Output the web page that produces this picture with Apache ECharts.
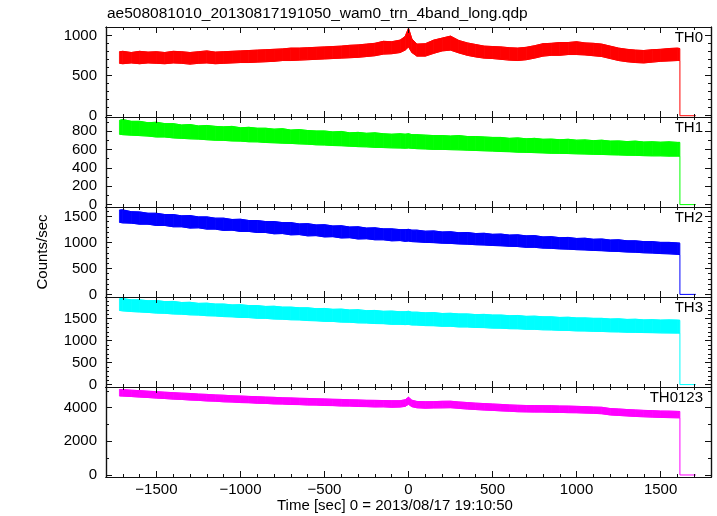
<!DOCTYPE html>
<html><head><meta charset="utf-8">
<script src="https://cdn.jsdelivr.net/npm/echarts@6/dist/echarts.min.js"></script>
<style>html,body{margin:0;padding:0;background:#fff}#c{width:717px;height:516px}</style>
</head><body><div id="c"></div>
<script>
// ---- data ----
const titleText = 'ae508081010_20130817191050_wam0_trn_4band_long.qdp';
const xTitle = 'Time [sec] 0 = 2013/08/17 19:10:50';
const yTitle = 'Counts/sec';
const seriesNames = ['TH0', 'TH1', 'TH2', 'TH3', 'TH0123'];
const colors = ['#ff0000', '#00ff00', '#0000ff', '#00ffff', '#ff00ff'];

const times = [-1720,-1700,-1650,-1600,-1550,-1500,-1450,-1400,-1350,-1300,-1250,-1200,-1150,-1100,-1050,-1000,-950,-900,-850,-800,-750,-700,-650,-600,-550,-500,-450,-400,-350,-300,-250,-200,-150,-100,-50,-20,0,20,50,100,150,200,250,300,350,400,450,500,550,600,650,700,750,800,850,900,950,1000,1050,1100,1150,1200,1250,1300,1350,1400,1450,1500,1550,1600,1615];

// upper / lower envelopes of the noisy traces
const th0Hi = [800,805,790,805,795,800,790,805,800,790,800,810,795,800,805,810,815,820,825,830,835,845,845,850,855,860,865,870,880,885,895,905,930,925,945,990,1095,960,895,900,945,970,995,940,910,890,870,865,860,850,845,855,875,900,905,915,915,925,910,905,895,870,845,830,820,815,825,830,840,845,840];
const th0Lo = [655,650,660,650,660,655,650,660,655,645,655,660,650,655,660,665,665,670,675,680,690,690,695,700,705,710,715,720,725,730,740,750,770,775,790,820,860,790,745,745,780,810,820,785,755,735,720,715,705,695,690,700,720,745,755,755,765,765,760,750,740,715,690,675,665,660,670,680,685,690,690];

const th1Hi = [915,925,905,905,890,895,880,880,865,870,855,860,850,845,850,835,840,830,830,820,825,810,815,805,800,800,790,795,780,785,775,780,770,765,770,765,770,760,760,755,750,750,745,750,740,740,735,730,730,720,725,715,720,710,712,705,710,700,703,695,700,690,692,685,690,680,683,678,682,676,676];
const th1Lo = [765,760,755,750,745,735,735,725,720,715,712,705,700,698,692,690,683,682,675,672,668,665,660,657,650,648,642,640,635,630,628,622,620,617,615,613,615,612,608,605,600,600,597,595,592,588,585,582,577,575,570,568,565,562,558,557,555,552,550,547,545,542,540,537,535,532,530,530,527,527,527];

const th2Hi = [1620,1625,1590,1585,1560,1560,1535,1535,1510,1515,1490,1490,1465,1465,1440,1445,1420,1420,1400,1400,1380,1380,1355,1360,1335,1340,1315,1320,1295,1300,1275,1280,1260,1260,1245,1245,1250,1235,1235,1215,1220,1200,1205,1185,1190,1170,1175,1155,1160,1140,1145,1125,1130,1105,1110,1090,1095,1075,1080,1060,1065,1045,1050,1030,1030,1015,1015,1000,1000,990,985];
const th2Lo = [1385,1375,1370,1350,1350,1325,1325,1300,1300,1275,1280,1255,1255,1230,1235,1210,1210,1190,1190,1165,1170,1145,1150,1125,1130,1105,1110,1085,1090,1065,1070,1050,1050,1030,1035,1020,1025,1015,1010,1000,995,985,980,970,965,955,950,940,935,925,920,905,905,890,885,875,870,860,855,845,840,830,825,815,810,800,795,785,780,770,765];

const th3Hi = [1950,1955,1925,1925,1905,1910,1885,1890,1865,1870,1845,1850,1830,1830,1810,1815,1795,1795,1775,1780,1760,1760,1745,1745,1725,1730,1710,1715,1695,1700,1680,1685,1665,1670,1655,1655,1665,1645,1645,1630,1635,1615,1620,1605,1605,1590,1595,1580,1580,1565,1570,1550,1555,1540,1540,1525,1530,1515,1515,1505,1505,1490,1495,1480,1485,1470,1475,1465,1470,1465,1460];
const th3Lo = [1685,1675,1660,1650,1640,1625,1620,1605,1600,1585,1580,1565,1560,1545,1540,1525,1523,1507,1505,1490,1485,1473,1470,1455,1450,1437,1435,1420,1417,1403,1400,1387,1385,1370,1370,1363,1367,1355,1353,1340,1338,1325,1325,1310,1310,1297,1295,1283,1282,1270,1268,1257,1255,1245,1242,1233,1230,1220,1218,1210,1207,1200,1197,1190,1187,1182,1180,1175,1173,1170,1170];

const th0123Hi = [5080,5075,5040,5015,4980,4955,4920,4895,4865,4845,4810,4790,4760,4740,4710,4695,4670,4655,4630,4615,4590,4580,4560,4550,4530,4520,4500,4490,4470,4460,4440,4435,4425,4415,4415,4470,4620,4445,4370,4355,4360,4380,4385,4340,4305,4270,4245,4220,4195,4165,4145,4130,4130,4120,4115,4100,4095,4080,4065,4040,4025,3950,3925,3890,3865,3840,3825,3800,3795,3780,3775];
const th0123Lo = [4700,4690,4665,4630,4605,4570,4545,4510,4490,4455,4435,4400,4385,4350,4335,4305,4295,4265,4255,4225,4215,4190,4185,4160,4155,4130,4125,4100,4095,4070,4065,4045,4050,4025,4040,4080,4200,4060,3995,3970,3985,3990,4000,3960,3920,3890,3860,3840,3810,3790,3760,3750,3740,3740,3725,3720,3705,3700,3680,3665,3640,3570,3540,3510,3480,3460,3440,3420,3410,3400,3400];

// after the trace ends: drop to zero level
const tailTimes = [1615, 1615, 1710];
const tailLevel = 0;

// axes
const xMin = -1800, xMax = 1800;
const xMajorTicks = [-1500,-1000,-500,0,500,1000,1500];
const xMinorTicks = [-1700,-1600,-1500,-1400,-1300,-1200,-1100,-1000,-900,-800,-700,-600,-500,-400,-300,-200,-100,0,100,200,300,400,500,600,700,800,900,1000,1100,1200,1300,1400,1500,1600,1700];
const yMins = [-16, -26, -50, -55, -120];
const yMaxs = [1109, 952, 1680, 1990, 5230];
const yMajorTicks = [[0,500,1000],[0,200,400,600,800],[0,500,1000,1500],[0,500,1000,1500],[0,2000,4000]];
const yMinorTicks = [
  [0,100,200,300,400,500,600,700,800,900,1000,1100],
  [0,100,200,300,400,500,600,700,800,900],
  [0,100,200,300,400,500,600,700,800,900,1000,1100,1200,1300,1400,1500,1600],
  [0,100,200,300,400,500,600,700,800,900,1000,1100,1200,1300,1400,1500,1600,1700,1800,1900],
  [0,1000,2000,3000,4000,5000]
];

const his = [th0Hi, th1Hi, th2Hi, th3Hi, th0123Hi];
const los = [th0Lo, th1Lo, th2Lo, th3Lo, th0123Lo];

// ---- chart construction ----
const FONT = '"Liberation Sans", Arial, Helvetica, sans-serif';
const PLOT_LEFT = 106, PLOT_RIGHT = 6, PLOT_TOP = 27, PANEL_H = 90;
const AXIS_COLOR = '#111';
const fmt = v => (v < 0 ? '\u2212' + Math.abs(v) : String(v));
const txt = size => ({fontSize: size, fontWeight: 'normal', color: '#000', fontFamily: FONT});

const grids = [], xAxes = [], yAxes = [], series = [], titles = [];
titles.push({text: titleText, left: 107, top: 6, padding: 0, textStyle: txt(15.5)});
titles.push({text: xTitle, left: 277, top: 498, padding: 0, textStyle: txt(15)});

function axisBase(min, max) {
  return {type: 'value', min: min, max: max, splitLine: {show: false}, z: 5,
    axisLine: {show: true, onZero: false, lineStyle: {color: AXIS_COLOR, width: 1.2}}};
}

function bandRenderer(color) {
  return function (params, api) {
    const a = api.coord([api.value(0), api.value(2)]);
    const b = api.coord([api.value(3), api.value(5)]);
    const c = api.coord([api.value(3), api.value(4)]);
    const d = api.coord([api.value(0), api.value(1)]);
    return {type: 'polygon', shape: {points: [a, b, c, d]},
      style: {fill: color, stroke: color, lineWidth: 0.8}};
  };
}

for (let p = 0; p < 5; p++) {
  const top = PLOT_TOP + PANEL_H * p;
  for (let g = 0; g < 2; g++) {
    grids.push({left: PLOT_LEFT, right: PLOT_RIGHT, top: top, height: PANEL_H, containLabel: false});
    const gi = 2 * p + g;
    const major = g === 0;
    const xt = major ? xMajorTicks : xMinorTicks;
    const yt = major ? yMajorTicks[p] : yMinorTicks[p];
    const len = major ? 6 : 3;
    ['bottom', 'top'].forEach(pos => {
      const ax = axisBase(xMin, xMax);
      ax.gridIndex = gi; ax.position = pos;
      ax.axisTick = {show: true, inside: true, length: len, customValues: xt, lineStyle: {color: AXIS_COLOR, width: 1}};
      const showLab = major && pos === 'bottom' && p === 4;
      ax.axisLabel = Object.assign({show: showLab, customValues: xMajorTicks, formatter: fmt, margin: 5}, txt(15));
      xAxes.push(ax);
    });
    ['left', 'right'].forEach(pos => {
      const ax = axisBase(yMins[p], yMaxs[p]);
      ax.gridIndex = gi; ax.position = pos;
      ax.axisTick = {show: true, inside: true, length: len, customValues: yt, lineStyle: {color: AXIS_COLOR, width: 1}};
      const showLab = major && pos === 'left';
      ax.axisLabel = Object.assign({show: showLab, customValues: yMajorTicks[p], formatter: fmt, margin: 9}, txt(15));
      if (showLab && p === 2) {
        ax.name = yTitle; ax.nameLocation = 'middle'; ax.nameGap = 56;
        ax.nameTextStyle = txt(15);
      }
      yAxes.push(ax);
    });
  }
  const xi = 4 * p, yi = 4 * p; // major grid, bottom x / left y
  const hi = his[p], lo = los[p], c = colors[p];
  const segs = [];
  for (let i = 0; i < times.length - 1; i++) {
    segs.push([times[i], lo[i], hi[i], times[i + 1], lo[i + 1], hi[i + 1]]);
  }
  series.push({type: 'custom', name: seriesNames[p], xAxisIndex: xi, yAxisIndex: yi,
    data: segs, encode: {x: [0, 3], y: [1, 2, 4, 5]}, renderItem: bandRenderer(c),
    animation: false, clip: true, z: 2});
  series.push({type: 'line', name: seriesNames[p] + '_hi', xAxisIndex: xi, yAxisIndex: yi,
    data: times.map((t, i) => [t, hi[i]]), symbol: 'none', animation: false,
    lineStyle: {color: c, width: 1}, z: 2});
  series.push({type: 'line', name: seriesNames[p] + '_lo', xAxisIndex: xi, yAxisIndex: yi,
    data: times.map((t, i) => [t, lo[i]]), symbol: 'none', animation: false,
    lineStyle: {color: c, width: 1}, z: 2});
  series.push({type: 'line', name: seriesNames[p] + '_tail', xAxisIndex: xi, yAxisIndex: yi,
    data: [[tailTimes[0], lo[lo.length - 1]], [tailTimes[1], tailLevel], [tailTimes[2], tailLevel]],
    symbol: 'none', animation: false, lineStyle: {color: c, width: 1}, z: 2});
  titles.push({text: seriesNames[p], right: 14, top: top + 3, padding: 0, textStyle: txt(15)});
}

const chart = echarts.init(document.getElementById('c'), null, {renderer: 'canvas'});
chart.setOption({
  backgroundColor: '#fff',
  animation: false,
  title: titles,
  grid: grids,
  xAxis: xAxes,
  yAxis: yAxes,
  series: series
});
</script>
</body></html>
